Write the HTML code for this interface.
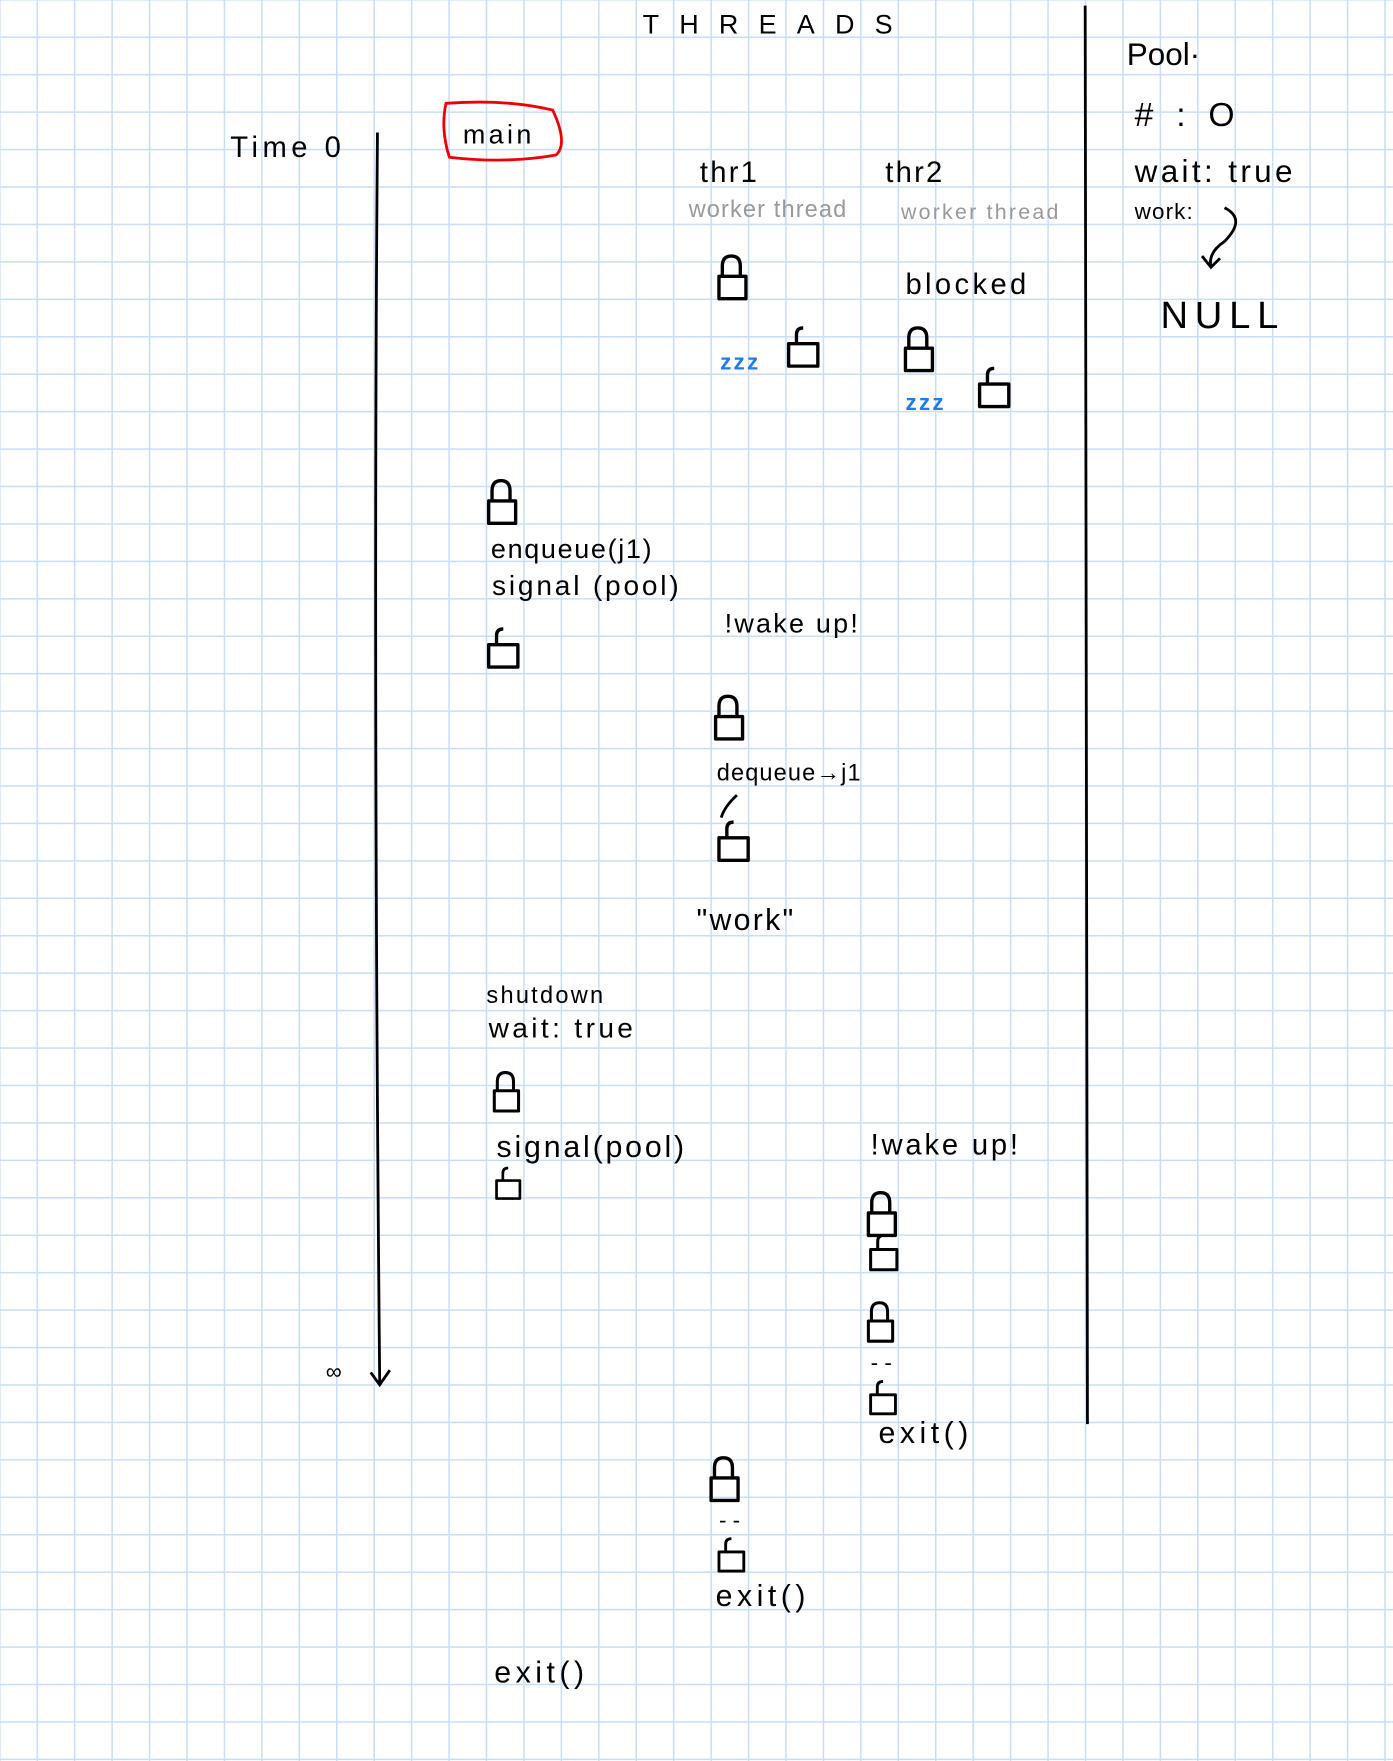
<!DOCTYPE html>
<html><head><meta charset="utf-8"><style>
html,body{margin:0;padding:0}
body{width:1393px;height:1761px;overflow:hidden;background-color:#fff;
background-image:linear-gradient(to right,#c9ddf7 1.5px,transparent 1.5px),linear-gradient(to bottom,#c9ddf7 1.5px,transparent 1.5px);
background-size:37.45px 37.45px;background-position:36.5px 36.5px;}
svg{position:absolute;left:0;top:0}
text{font-family:"Liberation Sans",sans-serif;fill:#000}
</style></head><body>
<svg width="1393" height="1761" viewBox="0 0 1240 1568" preserveAspectRatio="none">
<defs>
<g id="cl" fill="none" stroke="#000" stroke-width="3" stroke-linejoin="round">
<path d="M3,18 L3,9 Q3,0 11,0 Q19,0 19,9 L19,18"/>
<rect x="0" y="18" width="24" height="20"/>
</g>
<g id="ol" fill="none" stroke="#000" stroke-width="3" stroke-linejoin="round">
<path d="M7,14 L7,6 Q7,0 13,0"/>
<rect x="0" y="14" width="26" height="20"/>
</g>
</defs>
<text x="572" y="30" font-size="24" letter-spacing="18">THREADS</text>
<path d="M966,5 Q969,600 968,1268" stroke="#000" stroke-width="2.5" fill="none"/>
<text x="1003" y="58" font-size="28">Pool·</text>
<text x="1010" y="112" font-size="30" letter-spacing="6"># : O</text>
<text x="1010" y="162" font-size="28" letter-spacing="3">wait: true</text>
<text x="1010" y="195" font-size="20" letter-spacing="1">work:</text>
<path d="M1090,185 Q1110,195 1090,215 Q1075,225 1078,238 M1070,228 L1078,238 L1086,230" stroke="#000" stroke-width="2.5" fill="none"/>
<text x="1033" y="292" font-size="34" letter-spacing="6">NULL</text>
<text x="205" y="140" font-size="26" letter-spacing="4">Time 0</text>
<path d="M336,118 Q332,600 338,1232 M330,1222 L338,1233 L347,1220" stroke="#000" stroke-width="2.5" fill="none"/>
<text x="290" y="1228" font-size="20">∞</text>
<path d="M397,92 Q450,88 492,98 Q506,128 495,138 Q450,146 400,140 Q392,115 397,92Z" stroke="#e00" stroke-width="2.5" fill="none"/>
<text x="412" y="128" font-size="24" letter-spacing="3">main</text>
<text x="623" y="162" font-size="26" letter-spacing="2">thr1</text>
<text x="613" y="193" font-size="21" style="fill:#999" letter-spacing="1">worker thread</text>
<text x="788" y="162" font-size="26" letter-spacing="2">thr2</text>
<text x="802" y="195" font-size="19" style="fill:#999" letter-spacing="2">worker thread</text>
<use href="#cl" x="640" y="228"/>
<text x="641" y="329" font-size="20" font-weight="bold" style="fill:#1e7bf0" letter-spacing="2">zzz</text>
<use href="#ol" x="702" y="292"/>
<text x="806" y="262" font-size="26" letter-spacing="3">blocked</text>
<use href="#cl" x="806" y="292"/>
<text x="806" y="365" font-size="20" font-weight="bold" style="fill:#1e7bf0" letter-spacing="2">zzz</text>
<use href="#ol" x="872" y="328"/>
<use href="#cl" x="435" y="428"/>
<text x="437" y="497" font-size="24" letter-spacing="1.5">enqueue(j1)</text>
<text x="438" y="530" font-size="25" letter-spacing="2.5">signal (pool)</text>
<use href="#ol" x="435" y="560"/>
<text x="645" y="563" font-size="24" letter-spacing="2">!wake up!</text>
<use href="#cl" x="637" y="620"/>
<text x="638" y="695" font-size="21" letter-spacing="1">dequeue→j1</text>
<use href="#ol" x="640" y="732"/>
<path d="M656,708 Q645,718 642,728" stroke="#000" stroke-width="2.5" fill="none"/>
<text x="620" y="828" font-size="27" letter-spacing="2">"work"</text>
<text x="433" y="893" font-size="21" letter-spacing="2">shutdown</text>
<text x="435" y="924" font-size="25" letter-spacing="3">wait: true</text>
<use href="#cl" x="440" y="955" transform="translate(440,955) scale(0.9) translate(-440,-955)"/>
<text x="442" y="1030" font-size="27" letter-spacing="2.5">signal(pool)</text>
<use href="#ol" x="442" y="1040" transform="translate(442,1040) scale(0.8) translate(-442,-1040)"/>
<text x="775" y="1028" font-size="26" letter-spacing="2.5">!wake up!</text>
<use href="#cl" x="773" y="1062"/>
<use href="#ol" x="775" y="1100" transform="translate(775,1100) scale(0.9) translate(-775,-1100)"/>
<use href="#cl" x="773" y="1160" transform="translate(773,1160) scale(0.9) translate(-773,-1160)"/>
<text x="775" y="1220" font-size="20">- -</text>
<use href="#ol" x="775" y="1230" transform="translate(775,1230) scale(0.85) translate(-775,-1230)"/>
<text x="782" y="1285" font-size="27" letter-spacing="4">exit()</text>
<use href="#cl" x="633" y="1298"/>
<text x="640" y="1360" font-size="20">- -</text>
<use href="#ol" x="640" y="1370" transform="translate(640,1370) scale(0.85) translate(-640,-1370)"/>
<text x="637" y="1430" font-size="27" letter-spacing="4">exit()</text>
<text x="440" y="1498" font-size="27" letter-spacing="4">exit()</text>
</svg>
</body></html>
